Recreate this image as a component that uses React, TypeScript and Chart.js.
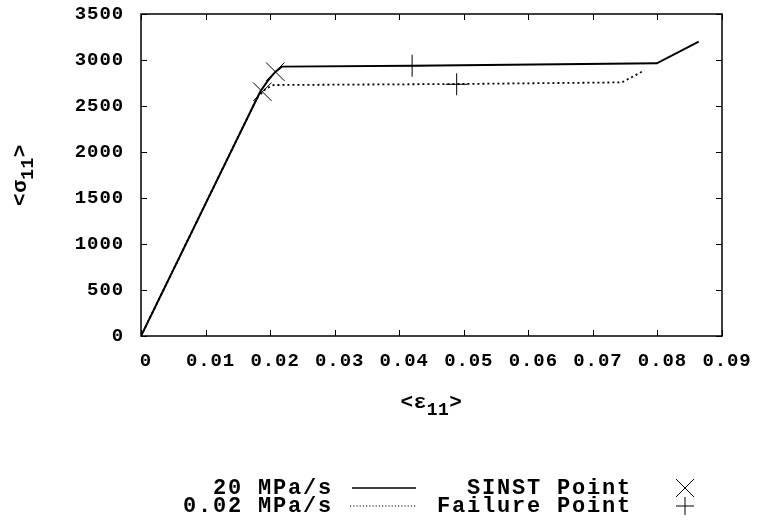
import React, { useEffect, useRef } from "react";
import { Chart, registerables } from "chart.js";

Chart.register(...registerables);

// Strain / stress paths for the two loading rates
const fastStrain = [0, 0.0185, 0.0198, 0.0208, 0.0218, 0.042, 0.0799, 0.0864];
const fastStress = [0, 2660, 2790, 2870, 2928, 2938, 2964, 3199];
const slowStrain = [0, 0.018, 0.0193, 0.0205, 0.0489, 0.0745, 0.0779];
const slowStress = [0, 2590, 2685, 2728, 2739, 2757, 2884];

// Instability (SINST) points
const sinstStrain = [0.0208, 0.0188];
const sinstStress = [2873, 2655];

// Failure points
const failStrain = [0.042, 0.0489];
const failStress = [2938, 2736];

const seriesNames = ["20 MPa/s", "0.02 MPa/s"];
const markerNames = ["SINST Point", "Failure Point"];

const xTitleMain = "<ε";
const yTitleMain = "<σ";
const titleSub = "11";

const MONO = '"Liberation Mono", "Courier New", monospace';
const TICK_SPACING = "0.9px";

const toPoints = (xs: number[], ys: number[]) => xs.map((x, i) => ({ x, y: ys[i] }));

// Slightly widened typewriter-like tick text
const spacingPlugin = {
  id: "letterSpacing",
  beforeUpdate(chart: any) {
    chart.ctx.letterSpacing = TICK_SPACING;
  },
  beforeDraw(chart: any) {
    chart.ctx.letterSpacing = TICK_SPACING;
  },
};

const framePlugin = {
  id: "gnuFrame",
  afterDraw(chart: any) {
    const { ctx, chartArea: a, scales } = chart;
    const xs = scales.x;
    const ys = scales.y;
    ctx.save();
    ctx.strokeStyle = "#000";
    ctx.letterSpacing = "0px";
    // box
    ctx.lineWidth = 1.5;
    ctx.strokeRect(a.left, a.top, a.right - a.left, a.bottom - a.top);
    // inward ticks, mirrored on all sides
    ctx.lineWidth = 1;
    const tl = 6;
    ctx.beginPath();
    xs.ticks.forEach((t: any) => {
      const px = Math.round(xs.getPixelForValue(t.value)) + 0.5;
      ctx.moveTo(px, a.bottom);
      ctx.lineTo(px, a.bottom - tl);
      ctx.moveTo(px, a.top);
      ctx.lineTo(px, a.top + tl);
    });
    ys.ticks.forEach((t: any) => {
      const py = Math.round(ys.getPixelForValue(t.value)) + 0.5;
      ctx.moveTo(a.left, py);
      ctx.lineTo(a.left + tl, py);
      ctx.moveTo(a.right, py);
      ctx.lineTo(a.right - tl, py);
    });
    ctx.stroke();

    // axis titles with subscripts
    const drawTitle = (main: string, cx: number, cy: number) => {
      ctx.fillStyle = "#000";
      ctx.textBaseline = "middle";
      ctx.textAlign = "left";
      ctx.letterSpacing = "0.5px";
      const mainFont = `bold 21px ${MONO}`;
      const subFont = `bold 18px ${MONO}`;
      ctx.font = mainFont;
      const wMain = ctx.measureText(main).width;
      const wClose = ctx.measureText(">").width;
      ctx.font = subFont;
      const wSub = ctx.measureText(titleSub).width;
      const total = wMain + wSub + wClose;
      let x = cx - total / 2;
      ctx.font = mainFont;
      ctx.fillText(main, x, cy);
      x += wMain;
      ctx.font = subFont;
      ctx.fillText(titleSub, x, cy + 7);
      x += wSub;
      ctx.font = mainFont;
      ctx.fillText(">", x, cy);
    };
    drawTitle(xTitleMain, (a.left + a.right) / 2, 403);
    ctx.save();
    ctx.translate(21, (a.top + a.bottom) / 2);
    ctx.rotate(-Math.PI / 2);
    drawTitle(yTitleMain, 0, 0);
    ctx.restore();

    // key
    const rows = [488, 506];
    ctx.font = `bold 22px ${MONO}`;
    ctx.letterSpacing = "1.8px";
    ctx.textAlign = "right";
    ctx.textBaseline = "middle";
    rows.forEach((ry, i) => {
      ctx.fillText(seriesNames[i], 333, ry);
      ctx.fillText(markerNames[i], 632, ry);
    });
    ctx.letterSpacing = "0px";
    // solid sample
    ctx.lineWidth = 1.5;
    ctx.setLineDash([]);
    ctx.beginPath();
    ctx.moveTo(352, rows[0]);
    ctx.lineTo(416, rows[0]);
    ctx.stroke();
    // dotted sample
    ctx.lineWidth = 1.2;
    ctx.setLineDash([1.2, 2]);
    ctx.beginPath();
    ctx.moveTo(350, rows[1]);
    ctx.lineTo(416, rows[1]);
    ctx.stroke();
    ctx.setLineDash([]);
    // marker samples
    ctx.lineWidth = 1;
    const mx = 685;
    const r = 9;
    ctx.beginPath();
    ctx.moveTo(mx - r, rows[0] - r);
    ctx.lineTo(mx + r, rows[0] + r);
    ctx.moveTo(mx - r, rows[0] + r);
    ctx.lineTo(mx + r, rows[0] - r);
    ctx.moveTo(mx - r, rows[1]);
    ctx.lineTo(mx + r, rows[1]);
    ctx.moveTo(mx, rows[1] - r);
    ctx.lineTo(mx, rows[1] + r);
    ctx.stroke();
    ctx.restore();
  },
};

export default function App() {
  const ref = useRef<HTMLCanvasElement | null>(null);

  useEffect(() => {
    if (!ref.current) return;
    const chart = new Chart(ref.current, {
      type: "scatter",
      data: {
        datasets: [
          {
            label: seriesNames[0],
            data: toPoints(fastStrain, fastStress),
            showLine: true,
            borderColor: "#000",
            borderWidth: 2,
            pointRadius: 0,
            fill: false,
          },
          {
            label: seriesNames[1],
            data: toPoints(slowStrain, slowStress),
            showLine: true,
            borderColor: "#000",
            borderWidth: 1.8,
            borderDash: [2, 3],
            pointRadius: 0,
            fill: false,
          },
          {
            label: markerNames[0],
            data: toPoints(sinstStrain, sinstStress),
            showLine: false,
            pointStyle: "crossRot",
            pointRadius: 13,
            borderColor: "#000",
            borderWidth: 1,
          },
          {
            label: markerNames[1],
            data: toPoints(failStrain, failStress),
            showLine: false,
            pointStyle: "cross",
            pointRadius: 11,
            borderColor: "#000",
            borderWidth: 1,
          },
        ],
      },
      options: {
        responsive: false,
        animation: false,
        layout: { padding: { top: 14, right: 35, left: 0, bottom: 0 } },
        plugins: {
          legend: { display: false },
          tooltip: { enabled: false },
        },
        scales: {
          x: {
            type: "linear",
            min: 0,
            max: 0.09,
            grid: { display: false, drawTicks: false },
            border: { display: false },
            ticks: {
              stepSize: 0.01,
              padding: 14,
              labelOffset: 5,
              color: "#000",
              font: { family: MONO, size: 19, weight: "bold" },
              callback: (v: any) => (Number(v) === 0 ? "0" : Number(v).toFixed(2)),
            },
            afterFit: (s: any) => {
              s.height = 187;
              s.paddingLeft = 0;
              s.paddingRight = 0;
            },
          },
          y: {
            type: "linear",
            min: 0,
            max: 3500,
            grid: { display: false, drawTicks: false },
            border: { display: false },
            ticks: {
              stepSize: 500,
              padding: 17,
              color: "#000",
              font: { family: MONO, size: 19, weight: "bold" },
              callback: (v: any) => String(v),
            },
            afterFit: (s: any) => {
              s.width = 141;
              s.paddingTop = 0;
              s.paddingBottom = 0;
            },
          },
        },
      },
      plugins: [spacingPlugin, framePlugin],
    });
    return () => chart.destroy();
  }, []);

  return (
    <div style={{ position: "fixed", left: 0, top: 0, width: 757, height: 523, background: "#fff" }}>
      <canvas ref={ref} width={757} height={523} style={{ width: 757, height: 523 }} />
    </div>
  );
}
